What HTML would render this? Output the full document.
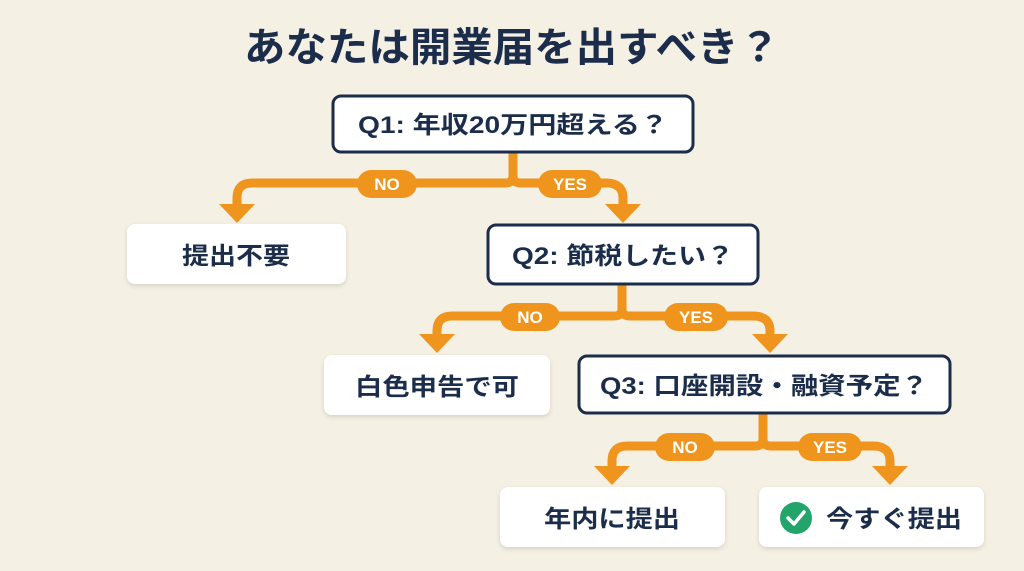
<!DOCTYPE html>
<html><head><meta charset="utf-8"><style>
html,body{margin:0;padding:0;background:#f5f0e4;}
svg{display:block;}
text{font-family:"Liberation Sans","Noto Sans CJK JP",sans-serif;font-weight:bold;}
</style></head><body>
<svg width="1024" height="571" viewBox="0 0 1024 571" xmlns="http://www.w3.org/2000/svg">
<defs>
<filter id="sh" x="-10%" y="-20%" width="120%" height="150%"><feDropShadow dx="0" dy="2" stdDeviation="2.5" flood-color="#000" flood-opacity="0.13"/></filter>
</defs>
<rect width="1024" height="571" fill="#f5f0e4"/>
<text x="512" y="61" text-anchor="middle" font-size="40" fill="#1b2d4a" textLength="536" lengthAdjust="spacingAndGlyphs">あなたは開業届を出すべき？</text>

<g fill="none" stroke="#ef951d" stroke-width="9" stroke-linejoin="round">
<!-- level 1 -->
<path d="M513 152 V176 Q513 183 505 183 H252 Q237 183 237 198 V208"/>
<path d="M513 176 Q513 183 521 183 H606 Q623 183 623 198 V208"/>
<!-- level 2 -->
<path d="M622 284 V309 Q622 316 614 316 H452 Q437 316 437 331 V338"/>
<path d="M622 309 Q622 316 630 316 H753 Q770 316 770 331 V338"/>
<!-- level 3 -->
<path d="M763 413 V439 Q763 446 755 446 H627 Q612 446 612 461 V470"/>
<path d="M763 439 Q763 446 771 446 H873 Q890 446 890 461 V470"/>
</g>
<g fill="#ef951d">
<polygon points="219,204 255,204 237,223"/>
<polygon points="605,204 641,204 623,223"/>
<polygon points="419,334 455,334 437,353"/>
<polygon points="752,334 788,334 770,353"/>
<polygon points="594,466 630,466 612,485"/>
<polygon points="872,466 908,466 890,485"/>
<rect x="357" y="170" width="60" height="28" rx="14"/>
<rect x="538" y="170" width="64" height="28" rx="14"/>
<rect x="500" y="303" width="60" height="28" rx="14"/>
<rect x="664" y="303" width="64" height="28" rx="14"/>
<rect x="655" y="433" width="60" height="28" rx="14"/>
<rect x="798" y="433" width="64" height="28" rx="14"/>
</g>
<g fill="#fff" font-size="17" text-anchor="middle">
<text x="387" y="190">NO</text><text x="570" y="190">YES</text>
<text x="530" y="323">NO</text><text x="696" y="323">YES</text>
<text x="685" y="453">NO</text><text x="830" y="453">YES</text>
</g>

<!-- question boxes -->
<g fill="#fff" stroke="#1b2d4a" stroke-width="3">
<rect x="333" y="96" width="360" height="56" rx="8"/>
<rect x="488" y="225" width="270" height="59" rx="8"/>
<rect x="579" y="356" width="371" height="57" rx="8"/>
</g>
<!-- result boxes -->
<g fill="#fff" filter="url(#sh)">
<rect x="127" y="224" width="219" height="60" rx="8"/>
<rect x="324" y="355" width="226" height="60" rx="8"/>
<rect x="500" y="487" width="225" height="60" rx="8"/>
<rect x="759" y="487" width="225" height="60" rx="8"/>
</g>
<g fill="#1b2d4a" font-size="24">
<text x="358" y="133" textLength="310" lengthAdjust="spacingAndGlyphs">Q1: 年収20万円超える？</text>
<text x="512" y="264" textLength="222" lengthAdjust="spacingAndGlyphs">Q2: 節税したい？</text>
<text x="600" y="394" textLength="328" lengthAdjust="spacingAndGlyphs">Q3: 口座開設・融資予定？</text>
<text x="236" y="264" text-anchor="middle" textLength="108" lengthAdjust="spacingAndGlyphs">提出不要</text>
<text x="437" y="395" text-anchor="middle" textLength="164" lengthAdjust="spacingAndGlyphs">白色申告で可</text>
<text x="612" y="527" text-anchor="middle" textLength="136" lengthAdjust="spacingAndGlyphs">年内に提出</text>
<text x="826" y="527" textLength="136" lengthAdjust="spacingAndGlyphs">今すぐ提出</text>
</g>
<circle cx="796" cy="518" r="16" fill="#23a46b"/>
<path d="M788 518 L794 524 L804 512" fill="none" stroke="#fff" stroke-width="3.5" stroke-linecap="round" stroke-linejoin="round"/>
</svg>
</body></html>
